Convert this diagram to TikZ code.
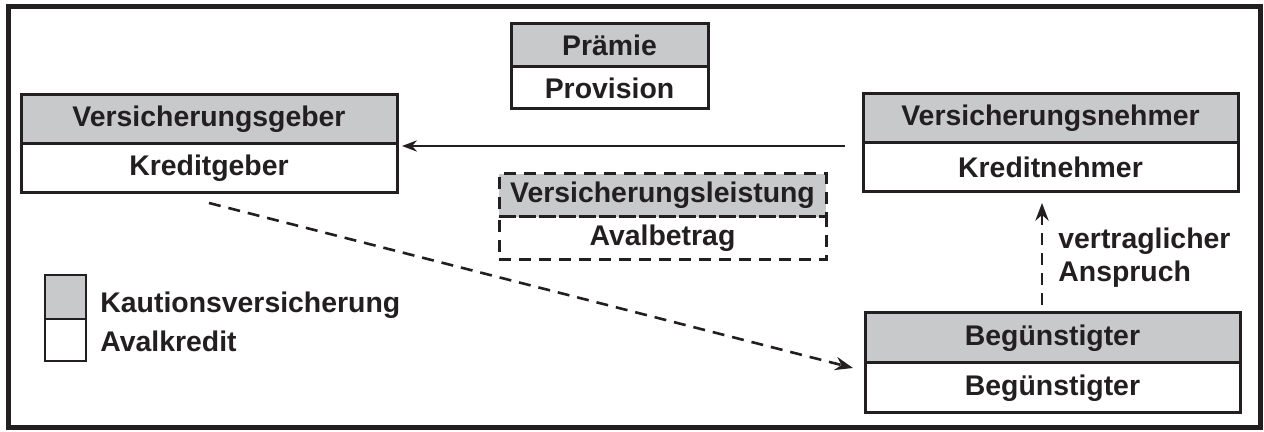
\documentclass[tikz,border=0pt]{standalone}
\usepackage{fontspec}
\setmainfont{Liberation Sans}
\usetikzlibrary{positioning,arrows.meta}
\definecolor{boxgray}{HTML}{C8C9CB}
\definecolor{ink}{HTML}{231F20}

\begin{document}
\begin{tikzpicture}[x=0.5pt, y=0.5pt, >=Stealth, draw=ink,
        every node/.style={font=\fontsize{14.2}{16.5}\selectfont\bfseries, text=ink},
        cell/.style={draw=ink, line width=1.5pt, outer sep=0pt, inner sep=0pt, minimum height=24.5pt},
        shaded/.style={cell, fill=boxgray},
        dashedcell/.style={cell, dash pattern=on 6pt off 4pt},
        flow/.style={->, line width=1.3pt, dash pattern=on 6pt off 4pt}]
        \useasboundingbox (0,0) rectangle (1264,432);
        \draw[line width=2.5pt] (8,4) rectangle (1260,425);

        % Parties
        \node[shaded, minimum width=188pt] (vg) at (209,312.5) {Versicherungsgeber};
        \node[cell, minimum width=188pt, below=0pt of vg] (kg) {Kreditgeber};

        \node[shaded, minimum width=187.5pt] (vn) at (1050.5,313.5) {Versicherungsnehmer};
        \node[cell, minimum width=187.5pt, below=0pt of vn] (kn) {Kreditnehmer};

        \node[shaded, minimum width=187.5pt, minimum height=25pt] (bg) at (1052.5,94) {Begünstigter};
        \node[cell, minimum width=187.5pt, minimum height=25pt, below=0pt of bg] (bga) {Begünstigter};

        % Payments
        \node[shaded, minimum width=98.5pt, minimum height=21.5pt] (pr) at (609.5,386.5) {Prämie};
        \node[cell, minimum width=98.5pt, minimum height=21pt, below=0pt of pr] (pv) {Provision};

        \node[dashedcell, fill=boxgray, minimum width=163.5pt, minimum height=21.5pt] (vl) at (662.5,236.5) {Versicherungsleistung};
        \node[dashedcell, minimum width=163.5pt, minimum height=21.5pt, below=0pt of vl] (ab) {Avalbetrag};

        % Flows
        \draw[->, line width=1pt] ([xshift=-9pt,yshift=-1.5pt]vn.south west) -- ([xshift=2.5pt,yshift=-1pt]vg.south east);
        \draw[flow] ([yshift=-5pt]kg.south) -- ([xshift=-6pt,yshift=-2.5pt]bg.south west);
        \draw[flow] ([xshift=-5.25pt,yshift=4pt]bg.north) -- ([xshift=-4.25pt,yshift=-5.5pt]kn.south);
        \node[anchor=west, align=left, inner sep=0pt] (anspruch) at (1058,174) {vertraglicher\\Anspruch};

        % Legend
        \node[shaded, line width=1.2pt, minimum width=20.5pt, minimum height=22pt] (lg) at (65.5,135) {};
        \node[cell, line width=1.2pt, minimum width=20.5pt, minimum height=21pt, below=0pt of lg] (lw) {};
        \node[anchor=base west, inner sep=0pt] (kv) at (100,119) {Kautionsversicherung};
        \node[anchor=base west, inner sep=0pt] (ak) at (100,80) {Avalkredit};
    \end{tikzpicture}
\end{document}
